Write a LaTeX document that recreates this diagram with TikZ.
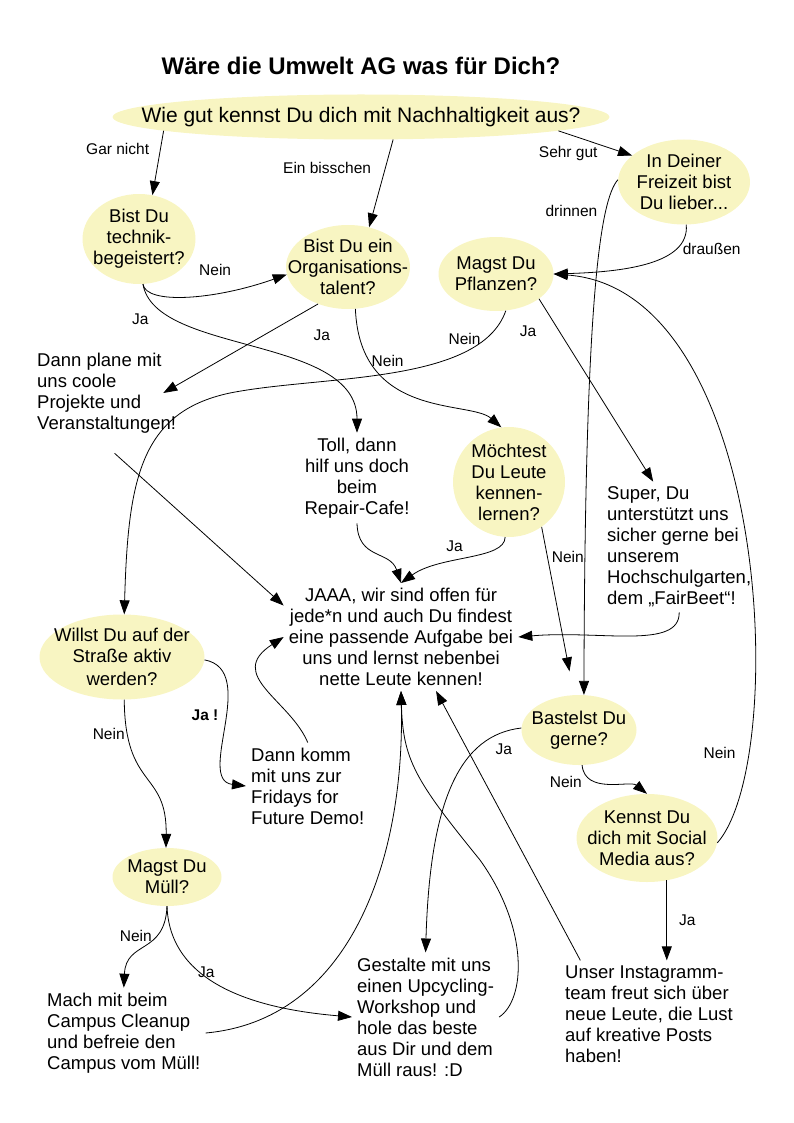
\documentclass[tikz,border=0pt]{standalone}
\usepackage{fontspec}
\setmainfont{Liberation Sans}
\usetikzlibrary{arrows.meta,positioning,shapes.geometric}
\definecolor{glow}{HTML}{F8F5C2}
\tikzset{quest/.style={ellipse,fill=glow,inner sep=-30pt,align=center,font=\fontsize{18.5}{21}\selectfont}, answer/.style={inner sep=5pt,font=\fontsize{18.5}{21}\selectfont}, flow/.style={-{Triangle[length=14pt,width=10pt]},line width=.8pt}, lbl/.style={font=\fontsize{15.5}{18}\selectfont,inner sep=1pt}}

\begin{document}
\begin{tikzpicture}[x=1pt,y=-1pt]
\useasboundingbox (0,0) rectangle (794,1123);
\node[font=\bfseries\fontsize{24}{28}\selectfont] (title) at (361,66) {Wäre die Umwelt AG was für Dich?};
\node[quest,minimum width=497,minimum height=45,inner xsep=-200pt,font=\fontsize{21}{24}\selectfont] (wiegut) at (361,117) {Wie gut kennst Du dich mit Nachhaltigkeit aus?};
\node[quest,minimum width=113,minimum height=90] (technik) at (139,239) {Bist Du\\technik-\\begeistert?};
\node[quest,minimum width=124,minimum height=84] (orga) at (348,267) {Bist Du ein\\Organisations-\\talent?};
\node[quest,minimum width=115,minimum height=74] (pflanzen) at (496,274) {Magst Du\\Pflanzen?};
\node[quest,minimum width=132,minimum height=85] (freizeit) at (684,182) {In Deiner\\Freizeit bist\\Du lieber...};
\node[quest,minimum width=112,minimum height=110] (leute) at (509,482) {Möchtest\\Du Leute\\kennen-\\lernen?};
\node[quest,minimum width=165,minimum height=85] (strasse) at (122,657) {Willst Du auf der\\Straße aktiv\\[2pt]werden?};
\node[quest,minimum width=115,minimum height=70] (basteln) at (579,730) {Bastelst Du\\gerne?};
\node[quest,minimum width=141,minimum height=88] (social) at (647,838) {Kennst Du\\dich mit Social\\Media aus?};
\node[quest,minimum width=109,minimum height=58] (muell) at (167,877) {Magst Du\\Müll?};
\node[answer,align=left,anchor=west] (planen) at (32,393) {Dann plane mit\\uns coole\\Projekte und\\Veranstaltungen!};
\node[answer,align=center] (repair) at (357,478) {Toll, dann\\hilf uns doch\\beim\\Repair-Cafe!};
\node[answer,align=left,anchor=west] (fairbeet) at (602,547) {Super, Du\\unterstützt uns\\sicher gerne bei\\unserem\\Hochschulgarten,\\dem „FairBeet“!};
\node[answer,align=center] (jaaa) at (401,637) {JAAA, wir sind offen für\\jede*n und auch Du findest\\eine passende Aufgabe bei\\uns und lernst nebenbei\\nette Leute kennen!};
\node[answer,align=left,anchor=west] (fff) at (246,786) {Dann komm\\mit uns zur\\Fridays for\\Future Demo!};
\node[answer,align=left,anchor=west] (cleanup) at (42,1033) {Mach mit beim\\Campus Cleanup\\und befreie den\\Campus vom Müll!};
\node[answer,align=left,anchor=west] (upcycling) at (352,1017) {Gestalte mit uns\\einen Upcycling-\\Workshop und\\hole das beste\\aus Dir und dem\\Müll raus! :D};
\node[answer,align=left,anchor=west] (insta) at (560,1014) {Unser Instagramm-\\team freut sich über\\neue Leute, die Lust\\auf kreative Posts\\haben!};
\draw[flow] (wiegut.184) -- node[lbl,pos=.28,left=10pt]{Gar nicht} (technik.73);
\draw[flow] (wiegut.-35) -- node[lbl,pos=.32,left=13pt]{Ein bisschen} (orga.62);
\draw[flow] (wiegut.-4) -- node[lbl,pos=.55,anchor=north east]{Sehr gut} (freizeit.153);
\draw[flow] (technik.275) .. controls (146,305) and (215,300) .. node[lbl,pos=.65,above=16pt]{Nein} (orga.187);
\draw[flow] (technik.275) .. controls (155,355) and (357,335) .. node[lbl,pos=.15,below left=2pt and 10pt]{Ja} (repair.north);
\draw[flow] (orga.231) -- node[lbl,pos=.05,below right=20pt and 2pt]{Ja} ([xshift=-18pt]planen.east);
\draw[flow] (orga.-80) .. controls (360,420) and (470,400) .. node[lbl,pos=.2,right=1pt]{Nein} (leute.98);
\draw[flow] (pflanzen.-75) .. controls (480,385) and (320,375) .. node[lbl,pos=.15,left=4pt]{Nein} (230,393) .. controls (140,412) and (128,480) .. (strasse.87);
\draw[flow] (pflanzen.-30) -- node[lbl,pos=.18,left=22pt]{Ja} ([xshift=-26pt]fairbeet.north);
\draw[flow] (freizeit.-87) .. controls (690,265) and (620,272) .. node[lbl,pos=.25,right=5pt]{draußen} (pflanzen.0);
\draw[flow] (freizeit.178) .. controls (600,200) and (585,300) .. node[lbl,pos=.24,left=7pt]{drinnen} (basteln.82);
\draw[flow] (social.-4) .. controls (790,760) and (770,290) .. node[lbl,pos=.2,left=12pt]{Nein} (pflanzen.0);
\draw[flow] (leute.-94) .. controls (505,560) and (440,555) .. node[lbl,pos=.6,above=8pt]{Ja} (jaaa.north);
\draw[flow] (repair.south) .. controls (358,560) and (390,550) .. (jaaa.north);
\draw[flow,shorten >=24pt] (leute.-54) -- node[lbl,pos=.18,right=3pt]{Nein} (basteln.98);
\draw[flow] ([yshift=-15pt]planen.-80) -- (jaaa.165);
\draw[flow] (fff.north) .. controls (290,700) and (225,675) .. (jaaa.west);
\draw[flow] (fairbeet.south) .. controls (680,650) and (600,630) .. (jaaa.east);
\draw[flow] (strasse.-2) .. controls (260,670) and (195,780) .. node[lbl,pos=.45,left=8pt]{\textbf{Ja !}} (fff.west);
\draw[flow] (strasse.-87) .. controls (125,790) and (167,770) .. node[lbl,pos=.15,left=1pt]{Nein} (muell.92);
\draw[flow] (muell.south) .. controls (165,955) and (126,940) .. node[lbl,pos=.3,left=4pt]{Nein} (cleanup.north);
\draw[flow] (muell.south) .. controls (170,990) and (270,1010) .. node[lbl,pos=.3,below right=0pt and 4pt]{Ja} (upcycling.west);
\draw[flow] (cleanup.east) .. controls (350,1020) and (405,860) .. (jaaa.south);
\draw[flow] (upcycling.east) .. controls (525,1000) and (530,930) .. (480,860) .. controls (415,780) and (403,760) .. (jaaa.south);
\draw[flow] (insta.142) -- (jaaa.-57);
\draw[flow] (basteln.178) .. controls (460,735) and (430,800) .. node[lbl,pos=.1,below=11pt]{Ja} (upcycling.north);
\draw[flow] (basteln.-85) .. controls (585,795) and (630,780) .. node[lbl,pos=.3,left=11pt]{Nein} (social.90);
\draw[flow] (social.-65) -- node[lbl,right=11pt]{Ja} (social.-65 |- insta.north);
\end{tikzpicture}
\end{document}
